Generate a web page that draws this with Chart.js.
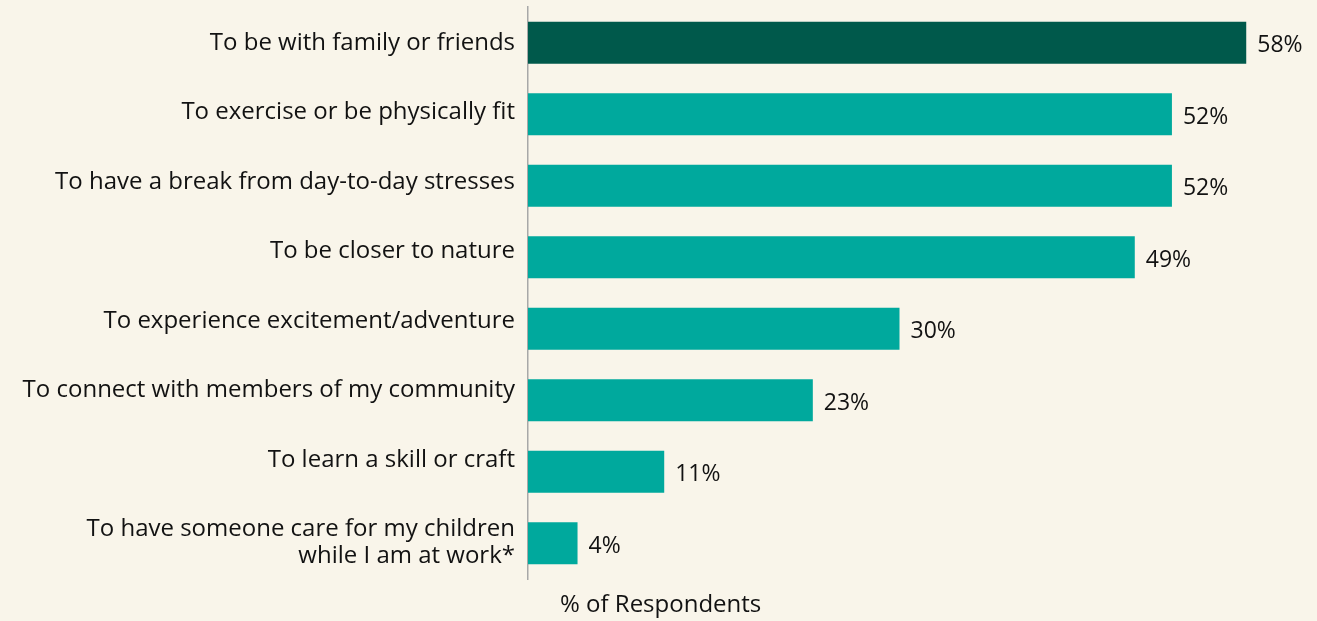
<!DOCTYPE html>
<html>
<head>
<meta charset="utf-8">
<script src="https://cdn.jsdelivr.net/npm/chart.js@4.4.1/dist/chart.umd.min.js"></script>
<style>
  html, body { margin: 0; padding: 0; background: #f9f5ea; }
  #wrap { width: 1317px; height: 621px; position: relative; }
</style>
</head>
<body>
<div id="wrap"><canvas id="chart"></canvas></div>
<script>
// Reasons for taking part, share of respondents
const categories = [
  "To be with family or friends",
  "To exercise or be physically fit",
  "To have a break from day-to-day stresses",
  "To be closer to nature",
  "To experience excitement/adventure",
  "To connect with members of my community",
  "To learn a skill or craft",
  ["To have someone care for my children", "while I am at work*"]
];
const percentValues = [58, 52, 52, 49, 30, 23, 11, 4];
const barColors = ["#00594b", "#00a99d", "#00a99d", "#00a99d", "#00a99d", "#00a99d", "#00a99d", "#00a99d"];
const axisTitle = "% of Respondents";

const FONT = "'Open Sans', 'Noto Sans', sans-serif";
const TEXT = "#121212";
const LABEL_LINE_HEIGHT = 27;
const LABEL_DRIFT = 2;   // labels sit a little higher on each successive row

// Category labels: right-aligned against the axis, first line on the row,
// extra lines flowing downward
const categoryLabels = {
  id: "categoryLabels",
  afterDraw(chart) {
    const ctx = chart.ctx;
    const yScale = chart.scales.y;
    const xRight = chart.chartArea.left - 13;
    ctx.save();
    ctx.font = "24px " + FONT;
    ctx.fillStyle = TEXT;
    ctx.textAlign = "right";
    ctx.textBaseline = "middle";
    categories.forEach((label, i) => {
      const lines = Array.isArray(label) ? label : [label];
      const y0 = yScale.getPixelForTick(i) - LABEL_DRIFT * i;
      lines.forEach((line, j) => {
        ctx.fillText(line, xRight, y0 + j * LABEL_LINE_HEIGHT);
      });
    });
    ctx.restore();
  }
};

// Percent labels placed just past each bar end
const valueLabels = {
  id: "valueLabels",
  afterDatasetsDraw(chart) {
    const ctx = chart.ctx;
    const meta = chart.getDatasetMeta(0);
    ctx.save();
    ctx.font = "23px " + FONT;
    ctx.fillStyle = TEXT;
    ctx.textAlign = "left";
    ctx.textBaseline = "middle";
    meta.data.forEach((bar, i) => {
      ctx.fillText(percentValues[i] + "%", bar.x + 11, bar.y + 3);
    });
    ctx.restore();
  }
};

// Axis caption below the plot, near the left of the bars
const bottomCaption = {
  id: "bottomCaption",
  afterDraw(chart) {
    const ctx = chart.ctx;
    ctx.save();
    ctx.font = "24px " + FONT;
    ctx.fillStyle = TEXT;
    ctx.textAlign = "left";
    ctx.textBaseline = "middle";
    ctx.fillText(axisTitle, chart.chartArea.left + 32, 605);
    ctx.restore();
  }
};

new Chart(document.getElementById("chart"), {
  type: "bar",
  data: {
    labels: categories,
    datasets: [{
      data: percentValues,
      backgroundColor: barColors,
      borderWidth: 0,
      barPercentage: 0.585,
      categoryPercentage: 1.0
    }]
  },
  options: {
    indexAxis: "y",
    responsive: true,
    maintainAspectRatio: false,
    animation: false,
    layout: { padding: { top: 7, bottom: 42, left: 0, right: 46 } },
    plugins: {
      legend: { display: false },
      tooltip: { enabled: false }
    },
    scales: {
      x: {
        display: false,
        min: 0,
        max: 60
      },
      y: {
        grid: { display: false },
        border: { display: true, color: "#a8a8a8", width: 1.5 },
        ticks: { display: false },
        afterFit(scale) {
          scale.width = 528;
          scale.paddingTop = 0;
          scale.paddingBottom = 0;
        }
      }
    }
  },
  plugins: [categoryLabels, valueLabels, bottomCaption]
});
</script>
</body>
</html>
